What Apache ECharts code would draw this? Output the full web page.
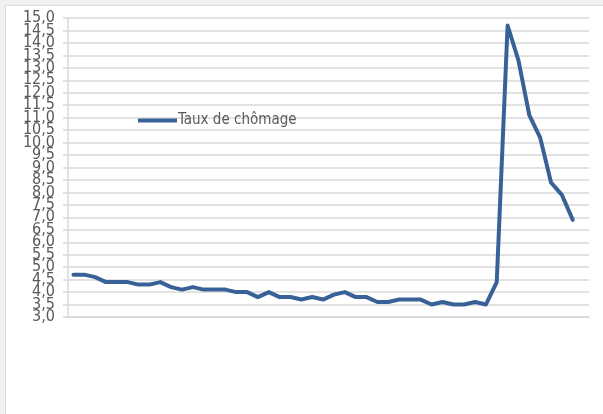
<!DOCTYPE html>
<html>
<head>
<meta charset="utf-8">
<script src="https://cdn.jsdelivr.net/npm/echarts@6/dist/echarts.min.js"></script>
<style>
html,body{margin:0;padding:0;background:#fff;}
#chart{width:603px;height:414px;}
</style>
</head>
<body>
<div id="chart"></div>
<script>
var seriesName = 'Taux de chômage';
var categories = [];
for (var i = 1; i <= 48; i++) { categories.push(String(i)); }
var unemployment = [
  4.7, 4.7, 4.6, 4.4, 4.4, 4.4, 4.3, 4.3, 4.4, 4.2,
  4.1, 4.2, 4.1, 4.1, 4.1, 4.0, 4.0, 3.8, 4.0, 3.8,
  3.8, 3.7, 3.8, 3.7, 3.9, 4.0, 3.8, 3.8, 3.6, 3.6,
  3.7, 3.7, 3.7, 3.5, 3.6, 3.5, 3.5, 3.6, 3.5, 4.4,
  14.7, 13.3, 11.1, 10.2, 8.4, 7.9, 6.9, null
];
var yMin = 3.0, yMax = 15.0, yStep = 0.5;

function fmt(v) { return v.toFixed(1).replace('.', ','); }

var chart = echarts.init(document.getElementById('chart'), null, {renderer: 'canvas'});
var font = '"Liberation Sans Narrow", "DejaVu Sans Condensed", sans-serif';
var labelBase = {margin: 13, color: '#595959', fontFamily: font, fontSize: 16, hideOverlap: false};
chart.setOption({
  animation: false,
  backgroundColor: '#ffffff',
  graphic: [
    {type: 'rect', left: 0, top: 0, shape: {width: 603, height: 5}, style: {fill: '#f0f0f0'}, z: -10},
    {type: 'rect', left: 0, top: 0, shape: {width: 5, height: 414}, style: {fill: '#f0f0f0'}, z: -10},
    {type: 'line', shape: {x1: 5.5, y1: 5, x2: 5.5, y2: 414}, style: {stroke: '#dadada', lineWidth: 1}, z: -9},
    {type: 'line', shape: {x1: 5, y1: 5.5, x2: 603, y2: 5.5}, style: {stroke: '#dadada', lineWidth: 1}, z: -9}
  ],
  legend: {
    left: 133,
    top: 108,
    itemWidth: 39,
    itemHeight: 4,
    icon: 'rect',
    data: [seriesName],
    textStyle: {fontFamily: font, fontSize: 15, color: '#595959', padding: [0, 0, 0, -4]}
  },
  grid: {left: 68, right: 14, top: 18, bottom: 97, containLabel: false},
  xAxis: {
    type: 'category',
    data: categories,
    boundaryGap: true,
    axisLine: {show: true, lineStyle: {color: '#d9d9d9', width: 1.5}},
    axisTick: {show: false},
    axisLabel: {show: false},
    splitLine: {show: false}
  },
  yAxis: [{
    type: 'value',
    position: 'left',
    min: yMin,
    max: yMax,
    interval: yStep,
    axisLine: {show: true, lineStyle: {color: '#d9d9d9', width: 1.5}},
    axisTick: {show: true, length: 5, lineStyle: {color: '#d9d9d9', width: 1.5}},
    axisLabel: Object.assign({}, labelBase, {
      formatter: function (v) { return (v === yMin || v === yMax) ? '' : fmt(v); }
    }),
    splitLine: {show: true, lineStyle: {color: '#d9d9d9', width: 1.5}}
  }, {
    type: 'value',
    position: 'left',
    offset: 0,
    min: yMin,
    max: yMax,
    interval: yStep,
    axisLine: {show: false},
    axisTick: {show: false},
    splitLine: {show: false},
    axisLabel: Object.assign({}, labelBase, {
      showMinLabel: true,
      showMaxLabel: true,
      formatter: function (v) { return (v === yMin || v === yMax) ? fmt(v) : ''; }
    })
  }],
  series: [{
    name: seriesName,
    type: 'line',
    yAxisIndex: 0,
    data: unemployment,
    symbol: 'none',
    smooth: false,
    lineStyle: {color: '#386297', width: 4, join: 'round', cap: 'round'},
    itemStyle: {color: '#386297'}
  }]
});
</script>
</body>
</html>
